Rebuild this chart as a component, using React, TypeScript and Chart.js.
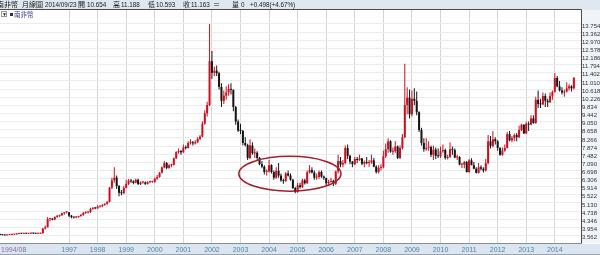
import { useEffect, useRef } from "react";
import { Chart, registerables } from "chart.js";
Chart.register(...registerables);

// ---- data: monthly [open, high, low, close], starting 1994/08 ----
const ohlc1994 = [
  [3.61, 3.65, 3.58, 3.59], [3.59, 3.62, 3.57, 3.58], [3.58, 3.6, 3.562, 3.57], [3.57, 3.61, 3.57, 3.59], [3.59, 3.61, 3.57, 3.6],
];
const ohlc1995 = [
  [3.6, 3.63, 3.58, 3.61], [3.61, 3.64, 3.59, 3.62], [3.62, 3.66, 3.6, 3.64], [3.64, 3.68, 3.62, 3.66], [3.66, 3.68, 3.63, 3.65], [3.65, 3.68, 3.63, 3.66],
  [3.66, 3.68, 3.64, 3.65], [3.65, 3.68, 3.63, 3.66], [3.66, 3.68, 3.64, 3.67], [3.67, 3.69, 3.64, 3.66], [3.66, 3.68, 3.64, 3.65], [3.65, 3.68, 3.63, 3.65],
];
const ohlc1996 = [
  [3.65, 3.69, 3.63, 3.67], [3.67, 3.92, 3.66, 3.9], [3.9, 4.05, 3.85, 3.96], [3.96, 4.45, 3.95, 4.35], [4.35, 4.42, 4.25, 4.36], [4.36, 4.4, 4.3, 4.33],
  [4.33, 4.48, 4.3, 4.46], [4.46, 4.55, 4.42, 4.51], [4.51, 4.56, 4.45, 4.54], [4.54, 4.66, 4.5, 4.64], [4.64, 4.7, 4.56, 4.68], [4.68, 4.72, 4.62, 4.68],
];
const ohlc1997 = [
  [4.68, 4.7, 4.45, 4.52], [4.52, 4.55, 4.4, 4.45], [4.45, 4.47, 4.38, 4.43], [4.43, 4.5, 4.4, 4.45], [4.45, 4.52, 4.42, 4.5], [4.5, 4.6, 4.47, 4.55],
  [4.55, 4.7, 4.52, 4.66], [4.66, 4.72, 4.6, 4.67], [4.67, 4.73, 4.62, 4.69], [4.69, 4.9, 4.65, 4.85], [4.85, 4.92, 4.8, 4.88], [4.88, 4.92, 4.83, 4.87],
];
const ohlc1998 = [
  [4.87, 5.02, 4.85, 4.96], [4.96, 5.0, 4.9, 4.97], [4.97, 5.07, 4.93, 5.04], [5.04, 5.12, 5.0, 5.09], [5.09, 5.22, 5.05, 5.18], [5.18, 5.9, 5.15, 5.87],
  [5.87, 6.35, 5.8, 6.22], [6.22, 6.85, 6.1, 6.35], [6.35, 6.45, 5.8, 5.94], [5.94, 6.0, 5.45, 5.62], [5.62, 5.75, 5.5, 5.6], [5.6, 5.95, 5.55, 5.86],
];
const ohlc1999 = [
  [5.86, 6.25, 5.84, 6.05], [6.05, 6.28, 6.0, 6.2], [6.2, 6.28, 6.1, 6.17], [6.17, 6.22, 6.03, 6.1], [6.1, 6.3, 6.08, 6.25], [6.25, 6.3, 6.0, 6.04],
  [6.04, 6.16, 6.0, 6.12], [6.12, 6.18, 6.05, 6.12], [6.12, 6.16, 6.0, 6.05], [6.05, 6.18, 6.02, 6.13], [6.13, 6.2, 6.08, 6.14], [6.14, 6.2, 6.1, 6.15],
];
const ohlc2000 = [
  [6.15, 6.35, 6.1, 6.3], [6.3, 6.48, 6.25, 6.38], [6.38, 6.62, 6.35, 6.59], [6.59, 6.9, 6.55, 6.84], [6.84, 7.15, 6.8, 7.05], [7.05, 7.1, 6.75, 6.82],
  [6.82, 7.0, 6.78, 6.95], [6.95, 7.02, 6.85, 6.97], [6.97, 7.32, 6.93, 7.28], [7.28, 7.62, 7.25, 7.58], [7.58, 7.75, 7.5, 7.63], [7.63, 7.68, 7.45, 7.57],
];
const ohlc2001 = [
  [7.57, 7.95, 7.55, 7.8], [7.8, 7.9, 7.7, 7.78], [7.78, 8.1, 7.75, 8.02], [8.02, 8.2, 7.95, 8.05], [8.05, 8.12, 7.9, 8.0], [8.0, 8.15, 7.95, 8.06],
  [8.06, 8.3, 8.02, 8.22], [8.22, 8.4, 8.15, 8.33], [8.33, 9.05, 8.3, 8.95], [8.95, 9.6, 8.9, 9.45], [9.45, 10.0, 9.3, 9.85], [9.85, 13.754, 9.8, 11.96],
];
const ohlc2002 = [
  [11.96, 12.45, 11.1, 11.4], [11.4, 11.7, 11.25, 11.5], [11.5, 11.75, 11.25, 11.38], [11.38, 11.45, 10.6, 10.72], [10.72, 10.9, 9.75, 10.05], [10.05, 10.55, 9.9, 10.3],
  [10.3, 10.75, 10.1, 10.45], [10.45, 10.85, 10.3, 10.62], [10.62, 10.9, 10.35, 10.58], [10.58, 10.6, 9.55, 9.75], [9.75, 9.8, 8.9, 9.05], [9.05, 9.15, 8.55, 8.62],
];
const ohlc2003 = [
  [8.62, 8.95, 8.45, 8.6], [8.6, 8.65, 7.9, 8.02], [8.02, 8.3, 7.85, 7.92], [7.92, 7.98, 7.2, 7.3], [7.3, 8.2, 7.25, 7.9], [7.9, 8.05, 7.45, 7.52],
  [7.52, 7.75, 7.3, 7.55], [7.55, 7.62, 7.2, 7.3], [7.3, 7.35, 6.95, 7.0], [7.0, 7.15, 6.8, 6.88], [6.88, 6.95, 6.5, 6.62], [6.62, 6.75, 6.45, 6.65],
];
const ohlc2004 = [
  [6.65, 7.2, 6.6, 6.95], [6.95, 7.0, 6.55, 6.62], [6.62, 6.7, 6.25, 6.35], [6.35, 6.85, 6.3, 6.68], [6.68, 7.05, 6.35, 6.45], [6.45, 6.55, 6.15, 6.22],
  [6.22, 6.3, 6.05, 6.18], [6.18, 6.62, 6.15, 6.55], [6.55, 6.7, 6.4, 6.45], [6.45, 6.55, 6.2, 6.25], [6.25, 6.28, 5.8, 5.85], [5.85, 5.9, 5.6, 5.66],
];
const ohlc2005 = [
  [5.66, 6.1, 5.62, 5.98], [5.98, 6.1, 5.82, 5.9], [5.9, 6.3, 5.85, 6.22], [6.22, 6.3, 6.02, 6.08], [6.08, 6.7, 6.05, 6.6], [6.6, 6.95, 6.55, 6.72],
  [6.72, 6.85, 6.55, 6.6], [6.6, 6.7, 6.25, 6.35], [6.35, 6.55, 6.25, 6.38], [6.38, 6.7, 6.3, 6.62], [6.62, 6.7, 6.35, 6.4], [6.4, 6.45, 6.25, 6.33],
];
const ohlc2006 = [
  [6.33, 6.35, 6.0, 6.08], [6.08, 6.25, 6.02, 6.15], [6.15, 6.35, 6.1, 6.2], [6.2, 6.25, 5.95, 6.05], [6.05, 6.7, 6.0, 6.65], [6.65, 7.45, 6.55, 7.15],
  [7.15, 7.35, 6.85, 6.98], [6.98, 7.2, 6.85, 7.05], [7.05, 7.9, 7.0, 7.78], [7.78, 7.95, 7.25, 7.4], [7.4, 7.45, 7.0, 7.12], [7.12, 7.15, 6.85, 7.0],
];
const ohlc2007 = [
  [7.0, 7.35, 6.95, 7.25], [7.25, 7.35, 7.05, 7.2], [7.2, 7.45, 7.15, 7.28], [7.28, 7.3, 6.95, 7.02], [7.02, 7.18, 6.85, 7.1], [7.1, 7.35, 7.0, 7.05],
  [7.05, 7.2, 6.88, 7.08], [7.08, 7.45, 7.02, 7.18], [7.18, 7.3, 6.85, 6.88], [6.88, 6.95, 6.55, 6.62], [6.62, 6.95, 6.55, 6.82], [6.82, 7.0, 6.7, 6.85],
];
const ohlc2008 = [
  [6.85, 7.65, 6.8, 7.38], [7.38, 8.0, 7.3, 7.72], [7.72, 8.25, 7.55, 8.1], [8.1, 8.15, 7.55, 7.6], [7.6, 7.8, 7.45, 7.62], [7.62, 8.1, 7.55, 7.85],
  [7.85, 7.9, 7.25, 7.3], [7.3, 7.9, 7.25, 7.78], [7.78, 8.45, 7.7, 8.3], [8.3, 11.84, 8.25, 9.85], [9.85, 10.7, 9.4, 10.2], [10.2, 10.6, 9.2, 9.4],
];
const ohlc2009 = [
  [9.4, 10.55, 9.3, 10.15], [10.15, 10.65, 9.85, 10.05], [10.05, 10.5, 9.35, 9.5], [9.5, 9.55, 8.55, 8.65], [8.65, 8.75, 7.9, 8.02], [8.02, 8.25, 7.6, 7.72],
  [7.72, 8.25, 7.65, 7.78], [7.78, 8.1, 7.65, 7.82], [7.82, 7.9, 7.35, 7.45], [7.45, 7.9, 7.2, 7.7], [7.7, 7.8, 7.25, 7.4], [7.4, 7.75, 7.3, 7.38],
];
const ohlc2010 = [
  [7.38, 7.85, 7.3, 7.62], [7.62, 7.95, 7.55, 7.68], [7.68, 7.75, 7.22, 7.3], [7.3, 7.45, 7.22, 7.35], [7.35, 8.05, 7.3, 7.72], [7.72, 7.85, 7.45, 7.68],
  [7.68, 7.75, 7.28, 7.32], [7.32, 7.45, 7.2, 7.35], [7.35, 7.38, 6.95, 6.98], [6.98, 7.05, 6.82, 6.98], [6.98, 7.15, 6.8, 7.1], [7.1, 7.15, 6.6, 6.62],
];
const ohlc2011 = [
  [6.62, 7.25, 6.58, 7.18], [7.18, 7.28, 6.95, 6.95], [6.95, 7.1, 6.75, 6.78], [6.78, 6.85, 6.55, 6.58], [6.58, 7.05, 6.55, 6.85], [6.85, 6.95, 6.7, 6.78],
  [6.78, 6.85, 6.6, 6.7], [6.7, 7.25, 6.65, 7.05], [7.05, 8.4, 7.0, 8.1], [8.1, 8.35, 7.75, 7.88], [7.88, 8.6, 7.8, 8.2], [8.2, 8.3, 7.95, 8.1],
];
const ohlc2012 = [
  [8.1, 8.15, 7.65, 7.78], [7.78, 7.82, 7.4, 7.45], [7.45, 7.8, 7.4, 7.65], [7.65, 7.95, 7.6, 7.78], [7.78, 8.55, 7.75, 8.45], [8.45, 8.6, 8.1, 8.15],
  [8.15, 8.35, 8.05, 8.25], [8.25, 8.48, 8.1, 8.4], [8.4, 8.5, 8.1, 8.3], [8.3, 8.85, 8.25, 8.65], [8.65, 8.95, 8.6, 8.9], [8.9, 8.92, 8.45, 8.48],
];
const ohlc2013 = [
  [8.48, 9.05, 8.45, 8.95], [8.95, 9.05, 8.6, 8.9], [8.9, 9.35, 8.88, 9.2], [9.2, 9.35, 8.95, 8.98], [8.98, 10.25, 8.95, 10.1], [10.1, 10.55, 9.7, 9.9],
  [9.9, 10.15, 9.7, 9.88], [9.88, 10.45, 9.85, 10.28], [10.28, 10.4, 9.75, 10.05], [10.05, 10.15, 9.75, 9.98], [9.98, 10.45, 9.95, 10.28], [10.28, 10.55, 10.1, 10.48],
];
const ohlc2014 = [
  [10.48, 11.39, 10.45, 11.15], [11.15, 11.25, 10.7, 10.75], [10.75, 11.0, 10.5, 10.55], [10.55, 10.7, 10.35, 10.45], [10.45, 10.6, 10.25, 10.5], [10.5, 10.95, 10.45, 10.65],
  [10.65, 10.85, 10.55, 10.75], [10.75, 10.8, 10.5, 10.654], [10.654, 11.188, 10.593, 11.163],
];

const firstYear = 1994;
const firstMonth = 8;
const yearLabels = ["1997", "1998", "1999", "2000", "2001", "2002", "2003", "2004", "2005", "2006", "2007", "2008", "2009", "2010", "2011", "2012", "2013", "2014"];
const firstLabel = "1994/08";
const yTickLabels = [
  "13.754", "13.362", "12.970", "12.578", "12.186", "11.794", "11.402", "11.010", "10.618", "10.226", "9.834", "9.442", "9.050", "8.658",
  "8.266", "7.874", "7.482", "7.090", "6.698", "6.306", "5.914", "5.522", "5.130", "4.738", "4.346", "3.954", "3.562",
];
// highlighted region (month index range, value range)
const circleMonths = [100.3, 143.2];
const circleValues = [5.7, 7.375];

const quoteName = "南非幣";
const quoteTitle = "月線圖";
const quoteDate = "2014/09/23";
const quoteOpen = "10.654";
const quoteHigh = "11.188";
const quoteLow = "10.593";
const quoteClose = "11.163";
const quoteVol = "0";
const quoteChange = "+0.498(+4.67%)";

const series = [
  ...ohlc1994, ...ohlc1995, ...ohlc1996, ...ohlc1997, ...ohlc1998, ...ohlc1999, ...ohlc2000,
  ...ohlc2001, ...ohlc2002, ...ohlc2003, ...ohlc2004, ...ohlc2005, ...ohlc2006, ...ohlc2007,
  ...ohlc2008, ...ohlc2009, ...ohlc2010, ...ohlc2011, ...ohlc2012, ...ohlc2013, ...ohlc2014,
];

const UP = "#cc1020";
const DOWN = "#151515";
const yearIndex = (y: string) => (Number(y) - firstYear) * 12 + (1 - firstMonth);

const framePlugin = {
  id: "frame",
  afterDatasetsDraw(chart: any) {
    const { ctx, scales } = chart;
    const x = scales.x, y = scales.y;
    const x1 = x.getPixelForValue(circleMonths[0]);
    const x2 = x.getPixelForValue(circleMonths[1]);
    const y1 = y.getPixelForValue(circleValues[1]);
    const y2 = y.getPixelForValue(circleValues[0]);
    ctx.save();
    ctx.beginPath();
    ctx.ellipse((x1 + x2) / 2, (y1 + y2) / 2, (x2 - x1) / 2, (y2 - y1) / 2, 0, 0, Math.PI * 2);
    ctx.strokeStyle = "#a3202c";
    ctx.lineWidth = 1.5;
    ctx.stroke();
    ctx.restore();
  },
  afterDraw(chart: any) {
    const { ctx, chartArea } = chart;
    ctx.save();
    ctx.lineWidth = 1;
    ctx.strokeStyle = "#4a4a4a";
    ctx.beginPath();
    ctx.moveTo(0, chartArea.top - 0.5);
    ctx.lineTo(chartArea.right + 0.5, chartArea.top - 0.5);
    ctx.moveTo(chartArea.right + 0.5, chartArea.top - 0.5);
    ctx.lineTo(chartArea.right + 0.5, chartArea.bottom + 0.5);
    ctx.stroke();
    ctx.strokeStyle = "#8c8c8c";
    ctx.beginPath();
    ctx.moveTo(0, chartArea.bottom + 0.5);
    ctx.lineTo(chartArea.right + 0.5, chartArea.bottom + 0.5);
    ctx.stroke();
    ctx.restore();
  },
};

export default function App() {
  const ref = useRef<HTMLCanvasElement>(null);
  useEffect(() => {
    document.body.style.margin = "0";
    const wicks = series.map((c, i) => ({ x: i, y: [c[2], c[1]] }));
    const bodies = series.map((c, i) => ({ x: i, y: [c[0], c[3]] }));
    const colors = series.map((c) => (c[3] >= c[0] ? UP : DOWN));
    const chart = new Chart(ref.current as HTMLCanvasElement, {
      type: "bar",
      data: {
        datasets: [
          { data: wicks as any, backgroundColor: colors, grouped: false, barThickness: 1, maxBarThickness: 1, inflateAmount: 0, borderWidth: 0 } as any,
          { data: bodies as any, backgroundColor: colors, grouped: false, barThickness: 2, maxBarThickness: 2, inflateAmount: 0, borderWidth: 0, minBarLength: 1 } as any,
        ],
      },
      plugins: [framePlugin],
      options: {
        responsive: false,
        devicePixelRatio: 1,
        animation: false,
        events: [],
        layout: { padding: { left: 0, right: 0, top: 10, bottom: 0 } },
        plugins: { legend: { display: false }, tooltip: { enabled: false }, title: { display: false } },
        scales: {
          x: {
            type: "linear",
            min: 0,
            max: 244,
            offset: false,
            grid: { color: "#d6d6d6", drawTicks: false, offset: false },
            border: { display: false },
            afterBuildTicks: (s: any) => {
              s.ticks = yearLabels.map((y) => ({ value: yearIndex(y) }));
            },
            afterFit: (s: any) => {
              s.height = 12;
            },
            ticks: {
              autoSkip: false,
              maxRotation: 0,
              padding: 3,
              color: "#4f86a8",
              font: { size: 7, family: "'Liberation Sans', Arial, sans-serif" },
              callback: (v: any) => String(firstYear + Math.floor((Number(v) + firstMonth - 1) / 12)),
            },
          },
          y: {
            type: "linear",
            position: "right",
            min: 3.202,
            max: 14.425,
            grid: { color: "#ececec", drawTicks: false },
            border: { display: false },
            afterBuildTicks: (s: any) => {
              s.ticks = yTickLabels.map((t) => ({ value: Number(t) }));
            },
            afterFit: (s: any) => {
              s.width = 19;
            },
            ticks: {
              autoSkip: false,
              padding: 1,
              labelOffset: 2,
              color: "#333",
              font: { size: 6, family: "'Liberation Sans', Arial, sans-serif" },
              callback: (v: any) => Number(v).toFixed(3),
            },
          },
        },
      } as any,
    });
    return () => chart.destroy();
  }, []);

  const hdr: any = { position: "absolute", top: 0, lineHeight: "9px", fontSize: 6.3, color: "#1a1a1a", whiteSpace: "nowrap" };
  const cjk: any = { ...hdr, fontSize: 7, fontFamily: "'Noto Sans CJK TC', sans-serif" };
  return (
    <div style={{ position: "relative", width: 600, height: 255, overflow: "hidden", background: "#fff", fontFamily: "'Liberation Sans', Arial, sans-serif" }}>
      <div style={{ position: "absolute", left: 0, top: 0, width: 600, height: 10, background: "#dfe7f0" }} />
      <div style={{ position: "absolute", left: 582, top: 10, width: 18, height: 233, background: "#f0f4f9" }} />
      <div style={{ position: "absolute", left: 0, top: 244, width: 600, height: 11, background: "#dae5f0" }} />
      <div style={{ position: "absolute", left: 0, top: 254, width: 600, height: 1, background: "#9aa4ae" }} />
      <canvas ref={ref} width={600} height={255} style={{ position: "absolute", left: 0, top: 0, width: 600, height: 255 }} />
      <span style={{ ...cjk, left: -3 }}>{quoteName}</span>
      <span style={{ ...cjk, left: 22 }}>{quoteTitle}</span>
      <span style={{ ...hdr, left: 45 }}>{quoteDate}</span>
      <span style={{ ...cjk, left: 78 }}>開</span>
      <span style={{ ...hdr, left: 87 }}>{quoteOpen}</span>
      <span style={{ ...cjk, left: 113 }}>高</span>
      <span style={{ ...hdr, left: 121 }}>{quoteHigh}</span>
      <span style={{ ...cjk, left: 148 }}>低</span>
      <span style={{ ...hdr, left: 156 }}>{quoteLow}</span>
      <span style={{ ...cjk, left: 183 }}>收</span>
      <span style={{ ...hdr, left: 191 }}>{quoteClose}</span>
      <span style={{ ...cjk, left: 213 }}>＝</span>
      <span style={{ ...cjk, left: 232 }}>量</span>
      <span style={{ ...hdr, left: 241 }}>{quoteVol}</span>
      <span style={{ ...hdr, left: 250 }}>{quoteChange}</span>
      <div style={{ position: "absolute", left: 1, top: 11, width: 6, height: 6, border: "1px solid #9a9a9a", background: "#fff", boxSizing: "border-box", fontSize: 5, lineHeight: "5px", textAlign: "center", color: "#222" }}>▼</div>
      <div style={{ position: "absolute", left: 10, top: 13, width: 3, height: 3, background: "#2b2b70" }} />
      <span style={{ position: "absolute", left: 14, top: 10, fontSize: 6.5, lineHeight: "8px", color: "#3a3a98", fontFamily: "'Noto Sans CJK TC', sans-serif" }}>{quoteName}</span>
      <span style={{ position: "absolute", left: 1, top: 245, fontSize: 7, lineHeight: "9px", color: "#8a70a8" }}>{firstLabel}</span>
    </div>
  );
}
